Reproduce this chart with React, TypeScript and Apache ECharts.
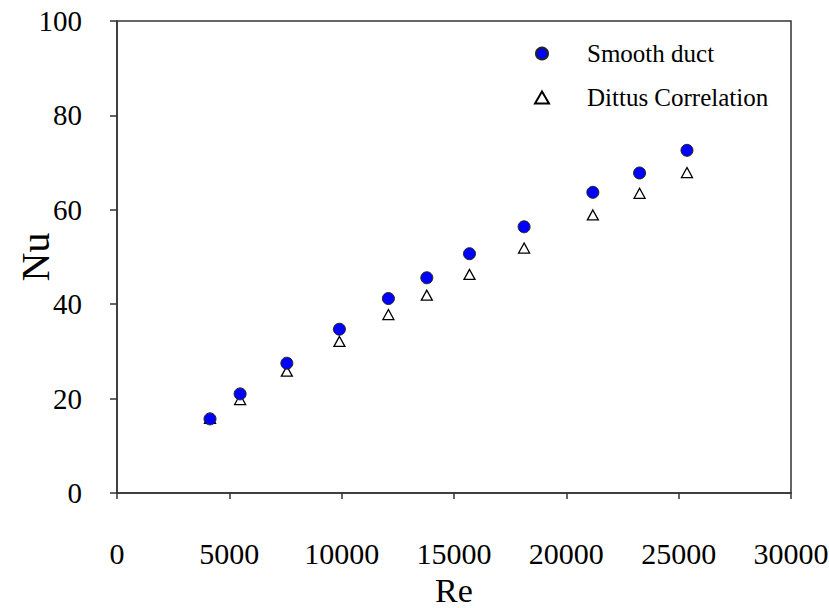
import React, { useEffect, useRef } from "react";
import * as echarts from "echarts";

const reValues = [4140, 5480, 7560, 9900, 12080, 13790, 15690, 18120, 21180, 23260, 25370];
const smoothNu = [15.7, 21.0, 27.5, 34.7, 41.2, 45.6, 50.7, 56.4, 63.7, 67.8, 72.6];
const dittusNu = [15.8, 19.8, 25.8, 32.1, 37.8, 41.9, 46.3, 51.9, 58.9, 63.5, 67.9];
const seriesNames = ["Smooth duct", "Dittus Correlation"];

const FONT = "'Liberation Serif', 'Times New Roman', serif";

export default function App() {
  const ref = useRef<HTMLDivElement>(null);
  useEffect(() => {
    if (!ref.current) return;
    const chart = echarts.init(ref.current, null, { renderer: "svg" });
    const axisLine = { show: true, lineStyle: { color: "#333", width: 1.5 } };
    chart.setOption({
      animation: false,
      backgroundColor: "#fff",
      grid: {
        left: 117,
        top: 21,
        right: 38,
        bottom: 115,
        outerBoundsMode: "none",
        containLabel: false,
        show: true,
        borderColor: "#333",
        borderWidth: 1.5,
      },
      legend: {
        data: seriesNames,
        orient: "vertical",
        left: 529,
        top: 36,
        itemWidth: 14,
        itemHeight: 12,
        itemGap: 19,
        textStyle: { fontFamily: FONT, fontSize: 25, color: "#000", padding: [0, 0, 0, 33] },
      },
      xAxis: {
        type: "value",
        min: 0,
        max: 30000,
        interval: 5000,
        name: "Re",
        nameLocation: "middle",
        nameGap: 80,
        nameMoveOverlap: false,
        nameTextStyle: { fontFamily: FONT, fontSize: 34, lineHeight: 34, color: "#000" },
        axisLine,
        axisTick: { show: true, length: 6, inside: false, lineStyle: { color: "#333", width: 1.5 } },
        axisLabel: {
          fontFamily: FONT,
          fontSize: 30,
          lineHeight: 30,
          color: "#000",
          margin: 45,
          formatter: (v: number) => String(v),
        },
        splitLine: { show: false },
      },
      yAxis: {
        type: "value",
        min: 0,
        max: 100,
        interval: 20,
        name: "Nu",
        nameLocation: "middle",
        nameGap: 62,
        nameMoveOverlap: false,
        nameTextStyle: { fontFamily: FONT, fontSize: 40, color: "#000" },
        axisLine,
        axisTick: { show: true, length: 7, inside: false, lineStyle: { color: "#333", width: 1.5 } },
        axisLabel: { fontFamily: FONT, fontSize: 29, color: "#000", margin: 35 },
        splitLine: { show: false },
      },
      series: [
        {
          name: seriesNames[0],
          type: "scatter",
          z: 3,
          symbol: "circle",
          symbolSize: 12,
          itemStyle: { color: "#0000FF", borderColor: "#222", borderWidth: 1, opacity: 1 },
          data: reValues.map((x, i) => [x, smoothNu[i]]),
        },
        {
          name: seriesNames[1],
          type: "scatter",
          z: 2,
          symbol: "triangle",
          symbolSize: [11, 10],
          itemStyle: { color: "#fff", borderColor: "#000", borderWidth: 1.3, opacity: 1 },
          data: reValues.map((x, i) => [x, dittusNu[i]]),
        },
      ],
    });
    return () => chart.dispose();
  }, []);
  return (
    <div
      ref={ref}
      style={{ position: "absolute", left: 0, top: 0, width: 829, height: 608 }}
    />
  );
}
